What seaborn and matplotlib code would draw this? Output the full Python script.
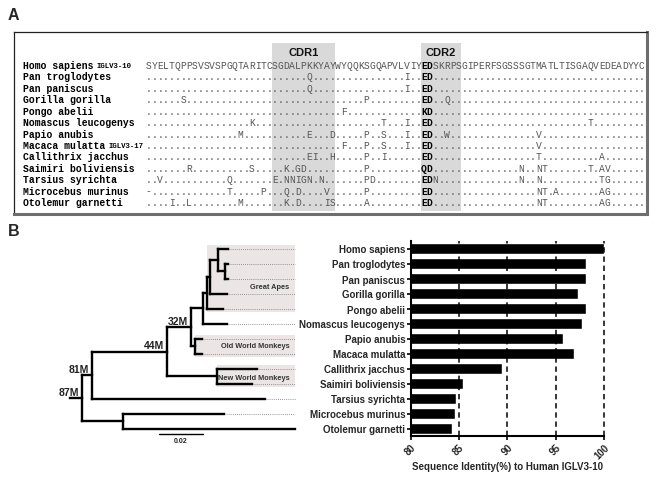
import matplotlib
matplotlib.use("Agg")
import matplotlib.pyplot as plt
import matplotlib.transforms as mtrans
from matplotlib.patches import Rectangle
import seaborn as sns

# ---------------- panel A data ----------------
ref_seq = "SYELTQPPSVSVSPGQTARITCSGDALPKKYAYWYQQKSGQAPVLVIYEDSKRPSGIPERFSGSSSGTMATLTISGAQVEDEADYYC"
align_names = ["Homo sapiens", "Pan troglodytes", "Pan paniscus", "Gorilla gorilla",
               "Pongo abelii", "Nomascus leucogenys", "Papio anubis", "Macaca mulatta",
               "Callithrix jacchus", "Saimiri boliviensis", "Tarsius syrichta",
               "Microcebus murinus", "Otolemur garnetti"]
align_tags = {0: "IGLV3-10", 7: "IGLV3-17"}
# substitutions relative to the human sequence (column index -> residue)
align_diffs = [
    {},
    {28: "Q", 45: "I"},
    {28: "Q", 45: "I"},
    {6: "S", 38: "P", 52: "Q"},
    {34: "F", 48: "K"},
    {18: "K", 41: "T", 45: "I", 77: "T"},
    {16: "M", 28: "E", 32: "D", 38: "P", 41: "S", 45: "I", 52: "W", 68: "V"},
    {34: "F", 38: "P", 41: "S", 45: "I", 68: "V"},
    {28: "E", 29: "I", 32: "H", 38: "P", 41: "I", 68: "T", 79: "A"},
    {7: "R", 18: "S", 24: "K", 26: "G", 27: "D", 38: "P", 48: "Q", 65: "N", 68: "N",
     69: "T", 77: "T", 79: "A", 80: "V"},
    {2: "V", 14: "Q", 22: "E", 24: "N", 25: "N", 26: "I", 27: "G", 28: "N", 30: "N",
     38: "P", 39: "D", 50: "N", 65: "N", 68: "N", 79: "T", 80: "G"},
    {0: "-", 14: "T", 20: "P", 24: "Q", 26: "D", 31: "V", 38: "P", 68: "N", 69: "T",
     71: "A", 79: "A", 80: "G"},
    {4: "I", 7: "L", 16: "M", 24: "K", 26: "D", 31: "I", 32: "S", 38: "A", 68: "N",
     69: "T", 79: "A", 80: "G"},
]
bold_cols = [48, 49]
cdr_labels = ["CDR1", "CDR2"]
cdr_start = [22, 48]
cdr_end = [32, 54]

# ---------------- panel B data ----------------
species = ["Homo sapiens", "Pan troglodytes", "Pan paniscus", "Gorilla gorilla",
           "Pongo abelii", "Nomascus leucogenys", "Papio anubis", "Macaca mulatta",
           "Callithrix jacchus", "Saimiri boliviensis", "Tarsius syrichta",
           "Microcebus murinus", "Otolemur garnetti"]
identity = [100, 98.1, 98.1, 97.3, 98.1, 97.7, 95.8, 96.9, 89.4, 85.4, 84.7, 84.6, 84.3]
x_ticks = [80, 85, 90, 95, 100]
grid_vals = [85, 90, 95, 100]

tree_child = ["n81", "strep", "n44", "Tarsius syrichta", "nwm", "n32", "owm", "hom",
              "ga", "hpg", "hp", "pan",
              "Microcebus murinus", "Otolemur garnetti", "Callithrix jacchus",
              "Saimiri boliviensis", "Papio anubis", "Macaca mulatta",
              "Nomascus leucogenys", "Pongo abelii", "Gorilla gorilla",
              "Homo sapiens", "Pan troglodytes", "Pan paniscus"]
tree_parent = ["root", "root", "n81", "n81", "n44", "n44", "n32", "n32",
               "hom", "ga", "hpg", "hp",
               "strep", "strep", "nwm", "nwm", "owm", "owm",
               "hom", "ga", "hpg", "hp", "pan", "pan"]
branch_len = [0.0046, 0.0189, 0.0346, 0.0793, 0.0226, 0.0107, 0.0020, 0.0055,
              0.0018, 0.0015, 0.0038, 0.0029,
              0.0462, 0.0787, 0.0183, 0.0160, 0.0032, 0.0032,
              0.0110, 0.0073, 0.0077, 0.0046, 0.0017, 0.0017]
node_ages = {"n32": "32M", "n44": "44M", "n81": "81M", "root": "87M"}
clade_names = ["Great Apes", "Old World Monkeys", "New World Monkeys"]
clade_nodes = ["ga", "owm", "nwm"]
clade_label_row = [2.55, 6.5, 8.6]
scale_len = 0.02

sns.set_theme(style="ticks")
plt.rcParams["font.family"] = ["Liberation Sans", "DejaVu Sans"]
MONO = "Liberation Mono"

fig = plt.figure(figsize=(6.58, 4.81), dpi=100)
W, H = 658.0, 481.0

# ================= panel A =================
ax_a = fig.add_axes([14 / W, 1 - 215 / H, 633 / W, 182 / H])
ax_a.set_xlim(-23.5, 86.9)
ax_a.set_ylim(13.05, -2.89)
ax_a.set_xticks([])
ax_a.set_yticks([])
ax_a.set_facecolor("white")
for side in ["top", "left"]:
    ax_a.spines[side].set_color("#222222")
    ax_a.spines[side].set_linewidth(0.9)
for side in ["right", "bottom"]:
    ax_a.spines[side].set_color("#6e6e6e")
    ax_a.spines[side].set_linewidth(2.2)

for lab, s, e in zip(cdr_labels, cdr_start, cdr_end):
    ax_a.add_patch(Rectangle((s - 0.5, -1.93), e - s + 1, 14.72,
                             facecolor="#d9d9d9", edgecolor="none", zorder=0))
    ax_a.text((s + e) / 2, -1.15, lab, ha="center", va="center",
              fontsize=8, fontweight="bold", color="#111111")

name_tr = mtrans.blended_transform_factory(ax_a.transAxes, ax_a.transData)
for r, (name, diffs) in enumerate(zip(align_names, align_diffs)):
    t = ax_a.text(0.0137, r, name, transform=name_tr, ha="left", va="center",
                  family=MONO, fontweight="bold", fontsize=7, color="black")
    if r in align_tags:
        ax_a.annotate(align_tags[r], xy=(1, 0), xycoords=t, xytext=(2.5, 0.6),
                      textcoords="offset points", ha="left", va="bottom",
                      family=MONO, fontweight="bold", fontsize=5.3, color="black")
    for j, ref_res in enumerate(ref_seq):
        if j in bold_cols:
            ch = diffs.get(j, ref_res)
            ax_a.text(j, r, ch, ha="center", va="center", family=MONO,
                      fontweight="bold", fontsize=6.9, color="black")
            continue
        if r == 0:
            ch = ref_res
        else:
            ch = diffs.get(j, ".")
        ax_a.text(j, r, ch, ha="center", va="center", family=MONO,
                  fontsize=6.9, color="#555555")

fig.text(8 / W, 1 - 15 / H, "A", fontsize=11.5, fontweight="bold", va="center")
fig.text(8 / W, 1 - 232 / H, "B", fontsize=11.5, fontweight="bold", va="center")

# ================= panel B: bar chart =================
ax_b = fig.add_axes([410.7 / W, 1 - 437 / H, 193.3 / W, 195 / H])
sns.barplot(x=identity, y=species, orient="h", color="black", saturation=1,
            width=0.7, ax=ax_b, zorder=2)
ax_b.set_xlim(80, 100)
ax_b.set_xticks(x_ticks)
for v in grid_vals:
    ax_b.axvline(v, color="black", lw=1.1, ls=(0, (3.5, 2.5)), zorder=3,
                 clip_on=False)
sns.despine(ax=ax_b)
for side in ["left", "bottom"]:
    ax_b.spines[side].set_linewidth(1.5)
    ax_b.spines[side].set_color("black")
ax_b.tick_params(axis="y", length=3, width=1.2, pad=1, labelsize=7, color="black")
ax_b.tick_params(axis="x", length=3, width=1.2, pad=1, labelsize=7, color="black")
for lbl in ax_b.get_yticklabels():
    lbl.set_fontweight("bold")
for lbl in ax_b.get_xticklabels():
    lbl.set_fontweight("bold")
    lbl.set_rotation(45)
    lbl.set_ha("right")
    lbl.set_rotation_mode("anchor")
ax_b.set_xlabel("Sequence Identity(%) to Human IGLV3-10", fontsize=7,
                fontweight="bold", labelpad=1)
ax_b.set_ylabel("")

# ================= panel B: tree =================
ax_t = fig.add_axes([40 / W, 1 - 437 / H, 260 / W, 195 / H])
ax_t.set_xlim(-0.01908, 0.09991)
ax_t.set_ylim(ax_b.get_ylim())
ax_t.axis("off")

parent_of = dict(zip(tree_child, tree_parent))
blen = dict(zip(tree_child, branch_len))
children = {}
for c, p in zip(tree_child, tree_parent):
    children.setdefault(p, []).append(c)

depth = {"root": 0.0}
def get_depth(n):
    if n not in depth:
        depth[n] = get_depth(parent_of[n]) + blen[n]
    return depth[n]
for n in tree_child:
    get_depth(n)

ypos = {s: i for i, s in enumerate(species)}
def get_y(n):
    if n not in ypos:
        ys = [get_y(c) for c in children[n]]
        ypos[n] = sum(ys) / len(ys)
    return ypos[n]
get_y("root")

def tips_under(n):
    if n not in children:
        return [n]
    out = []
    for c in children[n]:
        out += tips_under(c)
    return out

x_end = max(depth[s] for s in species)

# clade shading
for name, node, lrow in zip(clade_names, clade_nodes, clade_label_row):
    rows = [ypos[s] for s in tips_under(node)]
    y0, y1 = min(rows) - 0.25, max(rows) + 0.2
    ax_t.add_patch(Rectangle((depth[node], y0), x_end - depth[node], y1 - y0,
                             facecolor="#ebe5e5", edgecolor="none", zorder=0))
    ax_t.text(x_end - 0.0026, lrow, name, ha="right", va="center",
              fontsize=5.3, fontweight="bold", color="#333333", zorder=3)

lw = 1.7
# tip dotted extensions
for s in species:
    if depth[s] < x_end:
        ax_t.plot([depth[s], x_end], [ypos[s], ypos[s]], ls=(0, (1, 1.5)),
                  lw=0.6, color="#777777", zorder=1)
# horizontal branches
for c in tree_child:
    ax_t.plot([depth[parent_of[c]], depth[c]], [ypos[c], ypos[c]], color="black",
              lw=lw, solid_capstyle="projecting", zorder=2)
# vertical connectors
for n, ch in children.items():
    ys = [ypos[c] for c in ch]
    ax_t.plot([depth[n], depth[n]], [min(ys), max(ys)], color="black", lw=lw,
              solid_capstyle="projecting", zorder=2)
# root stub
ax_t.plot([-0.0054, 0], [ypos["root"], ypos["root"]], color="black", lw=lw,
          solid_capstyle="projecting", zorder=2)

for node, age in node_ages.items():
    ax_t.annotate(age, xy=(depth[node], ypos[node]), xytext=(-2, 0.8),
                  textcoords="offset points", ha="right", va="bottom",
                  fontsize=7.5, fontweight="bold", color="#222222")

# scale bar
sb_x, sb_y = 0.0354, 12.38
ax_t.plot([sb_x, sb_x + scale_len], [sb_y, sb_y], color="black", lw=1.0,
          clip_on=False)
ax_t.text(sb_x + scale_len / 2, sb_y + 0.2, f"{scale_len:.2f}", ha="center",
          va="top", fontsize=5, fontweight="bold", color="#222222")

fig.savefig("out.png", dpi=100)
